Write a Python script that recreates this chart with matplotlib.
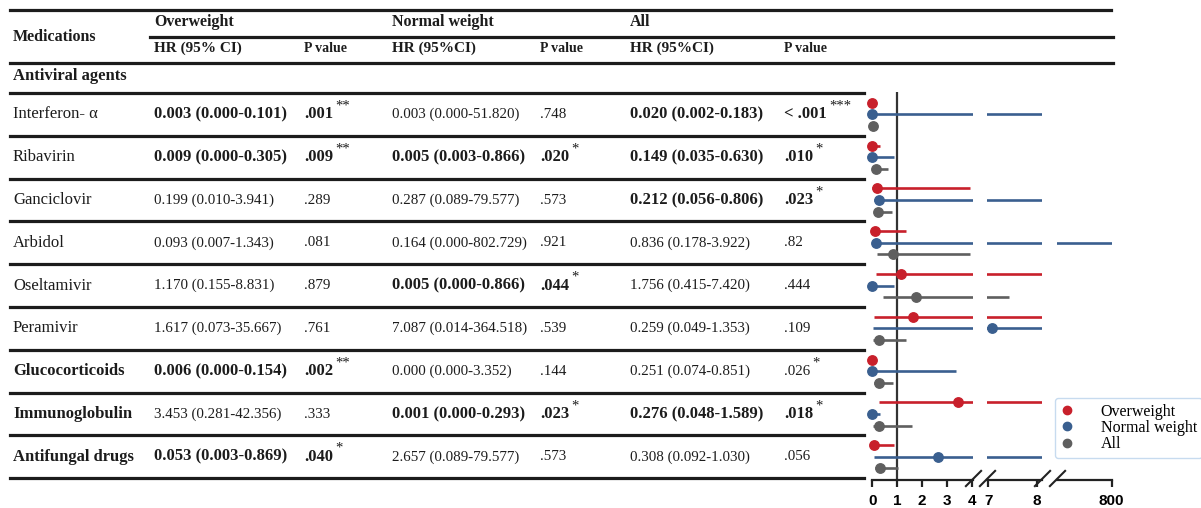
import matplotlib.pyplot as plt
from matplotlib.lines import Line2D

plt.rcParams['font.family'] = ['Liberation Serif', 'DejaVu Serif']

# table rows
meds = ['Interferon- α', 'Ribavirin', 'Ganciclovir', 'Arbidol', 'Oseltamivir',
        'Peramivir', 'Glucocorticoids', 'Immunoglobulin', 'Antifungal drugs']
med_bold = [False, False, False, False, False, False, True, True, True]

# overweight
hr_ow = [0.003, 0.009, 0.199, 0.093, 1.170, 1.617, 0.006, 3.453, 0.053]
lo_ow = [0.000, 0.000, 0.010, 0.007, 0.155, 0.073, 0.000, 0.281, 0.003]
hi_ow = [0.101, 0.305, 3.941, 1.343, 8.831, 35.667, 0.154, 42.356, 0.869]
p_ow = ['.001', '.009', '.289', '.081', '.879', '.761', '.002', '.333', '.040']
star_ow = ['**', '**', '', '', '', '', '**', '', '*']
bold_ow = [True, True, False, False, False, False, True, False, True]

# normal weight
hr_nw = [0.003, 0.005, 0.287, 0.164, 0.005, 7.087, 0.000, 0.001, 2.657]
lo_nw = [0.000, 0.003, 0.089, 0.000, 0.000, 0.014, 0.000, 0.000, 0.089]
hi_nw = [51.820, 0.866, 79.577, 802.729, 0.866, 364.518, 3.352, 0.293, 79.577]
p_nw = ['.748', '.020', '.573', '.921', '.044', '.539', '.144', '.023', '.573']
star_nw = ['', '*', '', '', '*', '', '', '*', '']
bold_nw = [False, True, False, False, True, False, False, True, False]

# all patients
hr_all = [0.020, 0.149, 0.212, 0.836, 1.756, 0.259, 0.251, 0.276, 0.308]
lo_all = [0.002, 0.035, 0.056, 0.178, 0.415, 0.049, 0.074, 0.048, 0.092]
hi_all = [0.183, 0.630, 0.806, 3.922, 7.420, 1.353, 0.851, 1.589, 1.030]
p_all = ['< .001', '.010', '.023', '.82', '.444', '.109', '.026', '.018', '.056']
star_all = ['***', '*', '*', '', '', '', '*', '*', '']
bold_all = [True, True, True, False, False, False, False, True, False]

groups = ['Overweight', 'Normal weight', 'All']
colors = ['#c8202b', '#3a5f8f', '#5f5f5f']

W, H = 1201, 508
fig = plt.figure(figsize=(W / 100, H / 100), dpi=100)

# ---- table drawn in pixel coordinates ----
tab = fig.add_axes([0, 0, 1, 1])
tab.set_xlim(0, W)
tab.set_ylim(H, 0)
tab.axis('off')

row_top = 93
row_h = 42.8
lw_rule = 2.3
ink = '#1c1c1c'

tab.plot([10, 1111], [10, 10], color=ink, lw=lw_rule)
tab.plot([150, 1113], [36.5, 36.5], color=ink, lw=lw_rule)
tab.plot([10, 1113], [62.5, 62.5], color=ink, lw=lw_rule)
for k in range(len(meds) + 1):
    yy = row_top + k * row_h
    tab.plot([10, 864], [yy, yy], color=ink, lw=lw_rule)

hr_x = [154, 392, 630]
p_x = [304, 540, 784]

tab.text(13, 37, 'Medications', fontsize=11.5, fontweight='bold', va='center', color=ink)
for g, x in zip(groups, hr_x):
    tab.text(x, 22, g, fontsize=11.5, fontweight='bold', va='center', color=ink)
for x, lab in zip(hr_x, ['HR (95% CI)', 'HR (95%CI)', 'HR (95%CI)']):
    tab.text(x, 48.5, lab, fontsize=11, fontweight='bold', va='center', color=ink)
for x in p_x:
    tab.text(x, 48.5, 'P value', fontsize=10, fontweight='bold', va='center', color=ink)
tab.text(13, 76, 'Antiviral agents', fontsize=12, fontweight='bold', va='center', color=ink)

cols = [(hr_ow, lo_ow, hi_ow, p_ow, star_ow, bold_ow),
        (hr_nw, lo_nw, hi_nw, p_nw, star_nw, bold_nw),
        (hr_all, lo_all, hi_all, p_all, star_all, bold_all)]

for i, m in enumerate(meds):
    yc = row_top + row_h * (i + 0.5)
    tab.text(13, yc, m, fontsize=12, va='center', color=ink,
             fontweight='bold' if med_bold[i] else 'normal')
    for (hr, lo, hi, pv, st, bd), hx, px in zip(cols, hr_x, p_x):
        fw = 'bold' if bd[i] else 'normal'
        fs = 12 if bd[i] else 10.8
        tab.text(hx, yc, f'{hr[i]:.3f} ({lo[i]:.3f}-{hi[i]:.3f})', fontsize=fs,
                 fontweight=fw, va='center', color=ink)
        t = tab.text(px, yc, pv[i], fontsize=fs, fontweight=fw, va='center', color=ink)
        if st[i]:
            tab.annotate(st[i], xy=(1, 0.5), xycoords=t, xytext=(1.5, 6),
                         textcoords='offset points', fontsize=10.5, va='center',
                         ha='left', color=ink)

# ---- forest plot on a broken x axis ----
segs = [((-0.03, 4.04), 871.5, 972.9, [0, 1, 2, 3, 4]),
        ((6.97, 8.11), 986.7, 1042.0, [7, 8]),
        ((700, 800), 1056.7, 1111.7, [800])]
y_top, y_bot = 92, 480
offs = [-0.273, 0.0, 0.273]
ylim = ((y_bot - 114.4) / row_h, (y_top - 114.4) / row_h)

series = [(hr_ow, lo_ow, hi_ow), (hr_nw, lo_nw, hi_nw), (hr_all, lo_all, hi_all)]

axes = []
for (xl, x0, x1, ticks) in segs:
    ax = fig.add_axes([x0 / W, 1 - y_bot / H, (x1 - x0) / W, (y_bot - y_top) / H])
    ax.set_xlim(*xl)
    ax.set_ylim(*ylim)
    ax.patch.set_alpha(0)
    for s in ['top', 'right', 'left']:
        ax.spines[s].set_visible(False)
    ax.spines['bottom'].set_linewidth(1.6)
    ax.spines['bottom'].set_color('#222222')
    ax.set_yticks([])
    ax.set_xticks(ticks)
    ax.tick_params(axis='x', length=5, width=1.6, color='#222222', pad=5)
    for lab in ax.get_xticklabels():
        lab.set_fontfamily('Liberation Sans')
        lab.set_fontweight('bold')
        lab.set_fontsize(11)
    for (hr, lo, hi), off, c in zip(series, offs, colors):
        for i in range(len(meds)):
            y = i + off
            ax.plot([lo[i], hi[i]], [y, y], color=c, lw=1.9, solid_capstyle='butt')
            if xl[0] <= hr[i] <= xl[1]:
                ax.plot(hr[i], y, 'o', color=c, ms=6.8, clip_on=False, zorder=5)
    axes.append(ax)

axes[0].axvline(1, color='#333333', lw=1.6, zorder=1)

# break marks on the axis
brk = dict(marker=[(-1, -1), (1, 1)], markersize=12, linestyle='none',
           color='#222222', mec='#222222', mew=1.5, clip_on=False)
axes[0].plot([1], [0.005], transform=axes[0].transAxes, **brk)
axes[1].plot([0, 1], [0.005, 0.005], transform=axes[1].transAxes, **brk)
axes[2].plot([0], [0.005], transform=axes[2].transAxes, **brk)

handles = [Line2D([], [], marker='o', linestyle='none', color=c, ms=6) for c in colors]
fig.legend(handles, groups, loc='upper left', bbox_to_anchor=(1055 / W, 1 - 398 / H),
           prop={'family': 'Liberation Serif', 'size': 11.5}, frameon=True,
           edgecolor='#b9d3ec', labelspacing=0.02, handletextpad=1.7,
           borderpad=0.35, handlelength=0.8, borderaxespad=0)

fig.savefig('out.png', dpi=100)
